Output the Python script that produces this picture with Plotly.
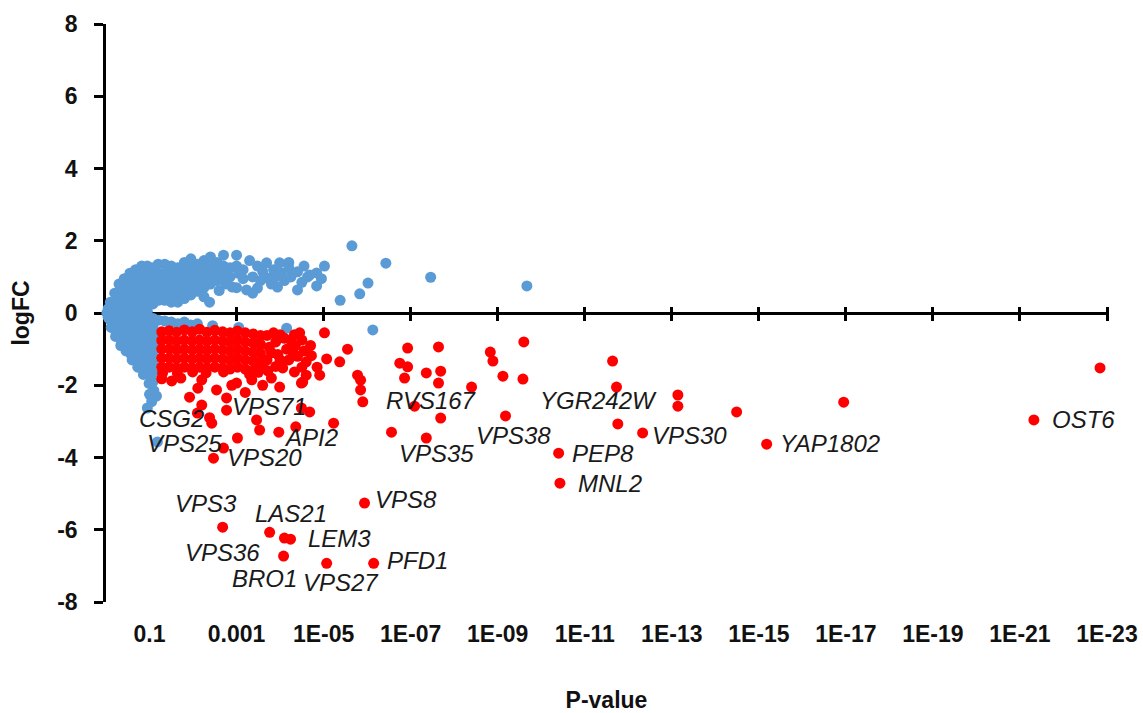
import plotly.graph_objects as go

# ---- data: x = -log10(P-value), y = logFC ----
blue_pts = [
    (0.02,0.0),(0.05,0.12),(0.05,-0.12),(0.1,0.3),(0.1,0.05),(0.1,-0.2),(0.12,-0.4),
    (0.2,0.55),(0.2,0.3),(0.2,0.05),(0.2,-0.2),(0.2,-0.45),(0.22,-0.65),
    (0.3,0.8),(0.3,0.55),(0.3,0.3),(0.3,0.05),(0.3,-0.2),(0.3,-0.45),(0.32,-0.7),(0.34,-0.9),
    (0.42,0.95),(0.42,0.7),(0.42,0.45),(0.42,0.2),(0.42,-0.05),(0.42,-0.3),(0.42,-0.55),(0.44,-0.8),(0.46,-1.05),
    (0.55,1.1),(0.55,0.85),(0.55,0.6),(0.55,0.35),(0.55,0.1),(0.55,-0.15),(0.55,-0.4),(0.55,-0.65),(0.56,-0.9),(0.58,-1.15),(0.6,-1.3),
    (0.68,1.2),(0.68,0.95),(0.68,0.7),(0.68,0.45),(0.68,0.2),(0.68,-0.05),(0.68,-0.3),(0.68,-0.55),(0.68,-0.8),(0.7,-1.05),(0.71,-1.3),(0.73,-1.5),
    (0.82,1.3),(0.82,1.05),(0.82,0.8),(0.82,0.55),(0.82,0.3),(0.82,0.05),(0.82,-0.2),(0.82,-0.45),(0.82,-0.7),(0.82,-0.95),(0.82,-1.2),(0.84,-1.45),(0.86,-1.7),
    (0.95,1.3),(0.95,1.05),(0.95,0.8),(0.95,0.55),(0.95,0.3),(0.95,0.05),(0.95,-0.2),(0.95,-0.45),(0.95,-0.7),(0.95,-0.95),(0.95,-1.2),(0.96,-1.45),(0.97,-1.7),(0.99,-1.95),
    (1.08,1.25),(1.08,1.0),(1.08,0.75),(1.08,0.5),(1.08,0.25),(1.08,-0.15),(1.08,-0.4),(1.08,-0.65),(1.08,-0.9),(1.08,-1.15),(1.08,-1.4),(1.08,-1.65),(1.08,-1.9),(1.1,-2.15),
    (1.16,-2.3),(1.05,-2.45),(0.95,-2.63),(1.18,-3.57),(1.0,-2.25),
    (1.2,1.35),(1.2,1.1),(1.2,0.85),(1.2,0.6),(1.2,0.35),(1.2,-0.2),
    (1.35,1.35),(1.35,1.1),(1.35,0.85),(1.35,0.6),(1.35,0.35),(1.35,-0.22),
    (1.5,1.3),(1.5,1.05),(1.5,0.8),(1.5,0.55),(1.5,0.3),(1.5,-0.25),
    (1.65,1.25),(1.65,1.0),(1.65,0.75),(1.65,0.5),(1.65,0.3),(1.65,-0.3),
    (1.8,1.4),(1.8,1.15),(1.8,0.9),(1.8,0.65),(1.8,0.4),(1.8,-0.25),
    (1.95,1.5),(1.95,1.25),(1.95,1.0),(1.95,0.75),(1.95,0.5),(1.95,-0.33),
    (2.1,1.35),(2.1,1.1),(2.1,0.85),(2.1,0.6),(2.1,-0.3),
    (2.25,1.45),(2.25,1.2),(2.25,0.95),(2.25,0.7),(2.25,0.45),
    (2.4,1.55),(2.4,1.3),(2.4,1.05),(2.4,0.8),(2.38,0.3),(2.45,-0.35),
    (2.55,1.4),(2.55,1.15),(2.55,0.9),(2.6,0.62),
    (2.7,1.6),(2.7,1.3),(2.7,1.05),(2.75,0.8),
    (2.85,1.25),(2.85,1.0),(2.9,0.72),
    (3.0,1.6),(3.0,1.3),(3.05,1.1),(3.0,0.7),
    (3.15,1.2),(3.15,0.95),(3.23,0.64),(3.3,1.45),
    (3.37,1.0),(3.37,0.55),(3.48,1.3),(3.48,0.69),(3.55,0.9),(3.6,1.15),
    (3.69,1.39),(3.71,0.97),(3.8,0.8),(3.85,1.2),(3.9,1.0),
    (3.94,0.72),(3.99,1.39),(4.03,1.11),(4.1,0.9),(4.2,1.25),(4.2,1.4),(4.25,1.0),
    (4.4,1.14),(4.4,0.64),(4.5,0.85),(4.55,1.3),(4.63,1.0),(4.68,1.05),(4.84,1.11),(4.84,0.75),
    (4.95,0.95),(5.02,1.3),
    (5.38,0.35),(5.65,1.86),(5.83,0.53),(6.02,0.83),(6.43,1.38),(7.46,0.99),(9.67,0.75),
    (3.05,-0.4),(4.15,-0.42),(6.13,-0.47),
]

red_pts = [
    # dense block
    (1.28,-0.52),(1.28,-0.76),(1.28,-1.0),(1.28,-1.25),(1.28,-1.5),(1.3,-1.66),
    (1.45,-0.49),(1.45,-0.75),(1.46,-1.0),(1.45,-1.25),(1.45,-1.5),
    (1.62,-0.53),(1.62,-0.78),(1.63,-1.02),(1.62,-1.27),(1.62,-1.52),(1.64,-1.67),
    (1.8,-0.47),(1.8,-0.75),(1.8,-1.0),(1.8,-1.25),(1.8,-1.5),
    (1.98,-0.52),(1.98,-0.77),(1.98,-1.02),(1.98,-1.27),(1.97,-1.52),(1.99,-1.63),
    (2.15,-0.45),(2.15,-0.75),(2.15,-1.0),(2.15,-1.25),(2.15,-1.5),
    (2.32,-0.53),(2.32,-0.78),(2.32,-1.03),(2.32,-1.27),(2.32,-1.52),(2.3,-1.66),
    (2.5,-0.48),(2.5,-0.75),(2.5,-1.0),(2.5,-1.25),(2.5,-1.5),
    (2.68,-0.52),(2.68,-0.77),(2.68,-1.02),(2.68,-1.27),(2.68,-1.52),(2.7,-1.63),
    (2.85,-0.55),(2.85,-0.8),(2.85,-1.05),(2.85,-1.3),(2.85,-1.55),
    (3.02,-0.5),(3.02,-0.75),(3.02,-1.0),(3.02,-1.25),(3.02,-1.5),
    (3.2,-0.55),(3.2,-0.8),(3.2,-1.05),(3.2,-1.3),(3.2,-1.55),
    (3.38,-0.58),(3.38,-0.83),(3.38,-1.08),(3.38,-1.33),(3.4,-1.58),
    (3.55,-0.62),(3.55,-0.87),(3.55,-1.12),(3.55,-1.37),(3.6,-1.5),(3.3,-1.7),(3.5,-1.64),
    # right cluster of the block
    (3.7,-0.62),(3.75,-0.95),(3.7,-1.3),(3.72,-1.6),(3.9,-0.8),(3.95,-1.15),(3.9,-1.48),
    (3.85,-0.55),(4.0,-0.6),(3.8,-1.1),(4.0,-1.3),(4.25,-0.75),(4.45,-0.55),(4.3,-1.1),(4.5,-1.5),
    (4.06,-1.52),(4.1,-0.7),(4.15,-1.0),(4.2,-1.3),(4.33,-0.6),(4.35,-0.9),(4.4,-1.2),
    (4.33,-1.63),(4.5,-0.75),(4.55,-1.05),(4.6,-1.35),(4.6,-1.72),(4.52,-1.91),(4.7,-0.9),(4.72,-1.18),
    # scattered below the block
    (1.28,-1.82),(1.51,-1.88),(1.72,-1.8),(1.92,-2.33),(2.11,-2.08),(2.2,-1.85),(2.54,-2.13),
    (2.77,-2.35),(2.89,-2.0),(3.0,-1.94),(3.2,-2.2),(3.35,-1.85),(3.6,-2.0),(3.99,-2.05),
    (4.49,-1.94),(3.8,-1.8),(2.2,-2.55),(2.38,-2.9),(2.1,-2.77),(2.43,-3.05),(2.77,-2.69),
    (3.46,-2.96),(3.53,-3.24),(3.97,-3.3),(4.36,-3.15),(5.23,-3.05),(4.49,-2.63),(4.68,-2.74),
    (3.02,-3.46),(2.7,-3.74),(2.47,-4.02),
    # sparse, mid range
    (5.02,-0.55),(5.55,-1.0),(5.07,-1.27),(5.37,-1.35),(4.91,-1.72),(5.78,-1.72),
    (5.85,-1.86),(5.85,-2.13),(5.9,-2.46),(4.85,-1.5),
    (6.56,-3.3),(6.75,-1.39),(6.86,-1.8),(6.93,-0.97),(6.93,-1.49),(7.09,-2.58),
    (7.36,-1.66),(7.36,-3.46),(7.64,-0.94),(7.69,-1.61),(7.64,-1.94),(7.69,-2.91),
    (8.4,-2.05),(8.83,-1.08),(8.89,-1.33),(9.12,-1.75),(9.18,-2.85),(9.58,-1.83),(9.6,-0.8),
    (10.4,-3.88),(10.43,-4.71),(11.64,-1.33),(11.73,-2.05),(11.76,-3.07),(12.33,-3.32),
    (13.14,-2.27),(13.14,-2.58),(14.49,-2.74),(15.18,-3.63),(16.95,-2.47),(21.32,-2.96),(22.84,-1.52),
    # strongly down-regulated
    (2.68,-5.93),(3.76,-6.07),(4.1,-6.23),(4.24,-6.26),(4.08,-6.73),(5.07,-6.93),
    (6.15,-6.93),(5.94,-5.26),
]

gene_names = ["CSG2","VPS71","VPS25","API2","VPS20","VPS3","LAS21","VPS8","LEM3",
              "VPS36","PFD1","BRO1","VPS27","RVS167","YGR242W","VPS38","VPS35",
              "PEP8","MNL2","VPS30","YAP1802","OST6"]
gene_label_x = [1.51,3.76,1.80,4.70,3.64,2.29,4.24,6.89,5.37,
                2.68,7.16,3.64,5.41,7.48,11.32,9.37,7.60,
                11.41,11.58,13.41,16.63,22.45]
gene_label_y = [-2.91,-2.60,-3.60,-3.46,-3.99,-5.26,-5.54,-5.15,-6.23,
                -6.62,-6.84,-7.34,-7.45,-2.41,-2.41,-3.38,-3.88,
                -3.88,-4.71,-3.38,-3.60,-2.96]

x_tickvals = [1,3,5,7,9,11,13,15,17,19,21,23]
x_ticktext = ["0.1","0.001","1E-05","1E-07","1E-09","1E-11","1E-13",
              "1E-15","1E-17","1E-19","1E-21","1E-23"]
y_tickvals = [-8,-6,-4,-2,0,2,4,6,8]
y_ticktext = ["-8","-6","-4","-2","0","2","4","6","8"]
x_range = [0, 23]
y_range = [-8, 8]

FONT = "Liberation Sans, Arial, sans-serif"
BLUE = "#5B9BD5"
RED = "#FF0000"
TXT = "#111111"

MT, MB = 24, 111
PLOT_H = 713 - MT - MB
TICK_HALF = 7  # cross ticks: 7 px each side of the logFC = 0 line

fig = go.Figure()
fig.add_trace(go.Scatter(
    x=[p[0] for p in blue_pts], y=[p[1] for p in blue_pts], mode="markers",
    marker=dict(color=BLUE, size=11, line=dict(width=0)), cliponaxis=False,
    showlegend=False, xaxis="x", yaxis="y"))
# red points live on the overlaying x2 axis (same range) that carries the crossing ticks
fig.add_trace(go.Scatter(
    x=[p[0] for p in red_pts], y=[p[1] for p in red_pts], mode="markers",
    marker=dict(color=RED, size=11, line=dict(width=0)), cliponaxis=False,
    showlegend=False, xaxis="x2", yaxis="y"))

for name, lx, ly in zip(gene_names, gene_label_x, gene_label_y):
    fig.add_annotation(x=lx, y=ly, xref="x", yref="y", text=name, showarrow=False,
                       xanchor="center", yanchor="middle",
                       font=dict(family=FONT, size=24, style="italic", color="#1a1a1a"))

# position of the tick-carrying axis: logFC=0 (middle of the y domain) + half tick length
mid_frac = (0 - y_range[0]) / (y_range[1] - y_range[0])
tick_axis_pos = mid_frac + TICK_HALF / PLOT_H

fig.update_layout(
    width=1143, height=713,
    margin=dict(l=106, r=36, t=MT, b=MB, autoexpand=False),
    paper_bgcolor="white", plot_bgcolor="white",
    font=dict(family=FONT, color="black"),
    xaxis=dict(range=x_range, domain=[0, 1], anchor="y", side="bottom",
               showgrid=False, zeroline=False, showline=False, ticks="",
               tickvals=x_tickvals, ticktext=x_ticktext,
               tickfont=dict(family=FONT, size=23, weight="bold", color=TXT),
               ticklabelstandoff=16,
               title=dict(text="P-value", font=dict(family=FONT, size=23, weight="bold", color=TXT),
                          standoff=48),
               automargin=False),
    xaxis2=dict(range=x_range, overlaying="x", anchor="free", position=tick_axis_pos,
                side="bottom", showgrid=False, zeroline=False, showline=False,
                ticks="outside", ticklen=2 * TICK_HALF, tickwidth=2.5, tickcolor="black",
                tickvals=x_tickvals, showticklabels=False, layer="below traces"),
    yaxis=dict(range=y_range, domain=[0, 1], anchor="x",
               showgrid=False,
               zeroline=True, zerolinecolor="black", zerolinewidth=2.5,
               showline=True, linecolor="black", linewidth=2.5,
               ticks="outside", ticklen=9, tickwidth=2.5, tickcolor="black",
               tickvals=y_tickvals, ticktext=y_ticktext,
               tickfont=dict(family=FONT, size=23, weight="bold", color=TXT),
               ticklabelstandoff=12, layer="below traces",
               title=dict(text="logFC", font=dict(family=FONT, size=23, weight="bold", color=TXT),
                          standoff=22),
               automargin=False),
)

fig.write_html("out.html")
